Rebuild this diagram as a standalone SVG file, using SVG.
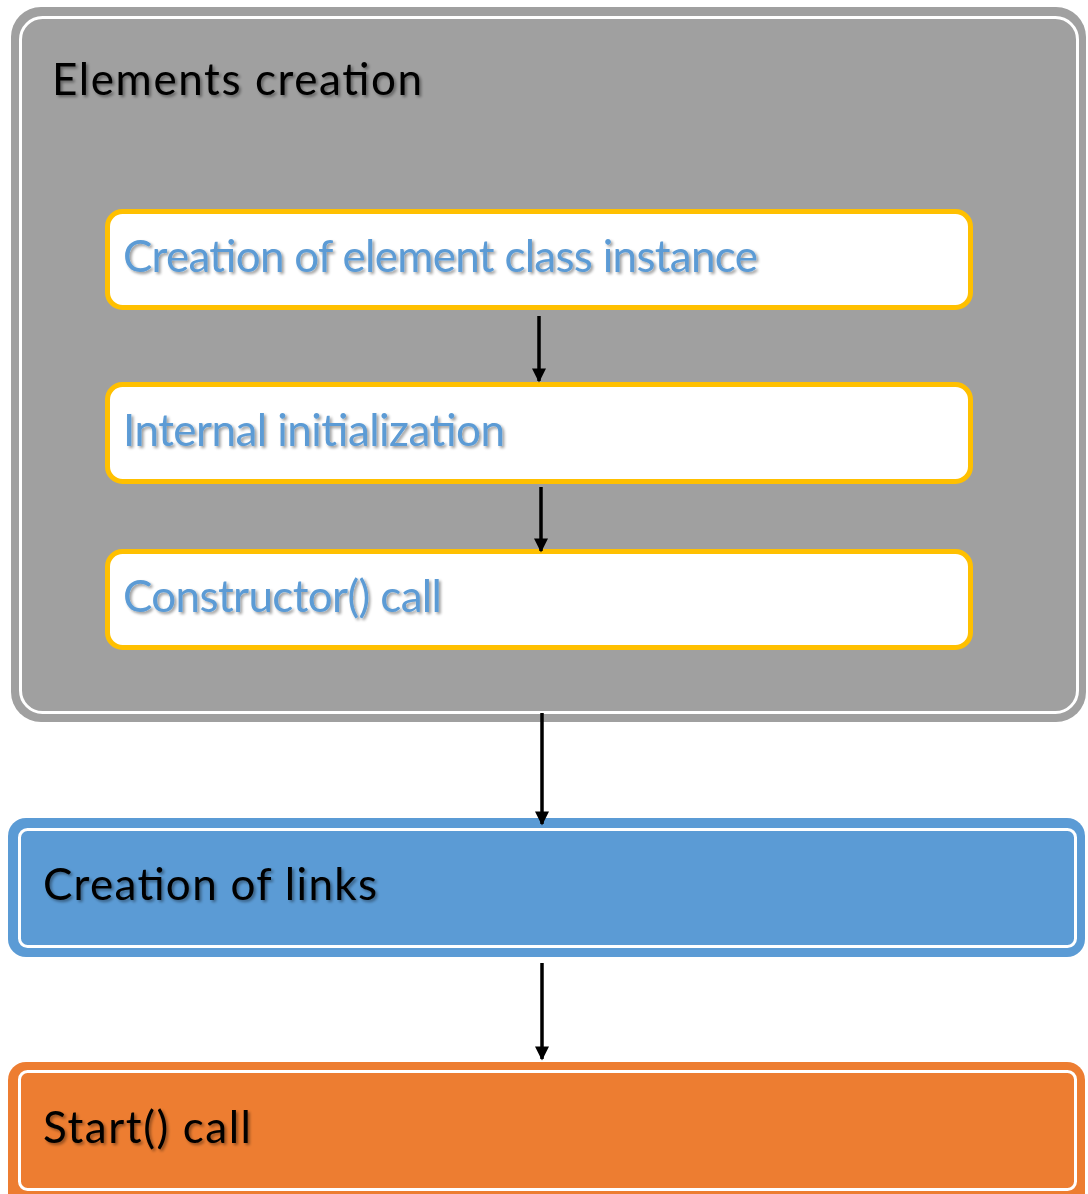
<svg xmlns="http://www.w3.org/2000/svg" width="1088" height="1194" viewBox="0 0 1088 1194">
<defs>
<marker id="ah" viewBox="0 0 10 10" refX="9" refY="5" markerWidth="4.3" markerHeight="4" orient="auto" markerUnits="strokeWidth">
<path d="M0,0 L10,5 L0,10 z" fill="#000"/>
</marker>
<filter id="sh" x="-5%" y="-20%" width="110%" height="150%">
<feGaussianBlur in="SourceAlpha" stdDeviation="1.5"/>
<feOffset dx="1.5" dy="2" result="b"/>
<feComponentTransfer><feFuncA type="linear" slope="0.4"/></feComponentTransfer>
<feMerge><feMergeNode/><feMergeNode in="SourceGraphic"/></feMerge>
</filter>
</defs>
<style>
text{font-family:Lato,"Open Sans","Liberation Sans",sans-serif;font-size:44px}
.dark{fill:#000}
.blue{fill:#5b9bd5}
.inner{fill:#fff;stroke:#ffc000;stroke-width:5}
.wl{fill:none;stroke:#fff;stroke-width:3}
.conn line{stroke:#000;stroke-width:3.5;marker-end:url(#ah)}
</style>
<rect width="1088" height="1194" fill="#fff"/>
<g id="elements-creation">
<rect x="11" y="7" width="1075" height="715" rx="30" fill="#a0a0a0"/>
<rect x="20.5" y="17.5" width="1057" height="695" rx="22" class="wl"/>
<text x="52" y="95" class="dark" textLength="370" filter="url(#sh)">Elements creation</text>
</g>
<g id="node-instance">
<rect x="107.5" y="211.5" width="863" height="96" rx="15" class="inner"/>
<text x="123" y="272" class="blue" textLength="635" filter="url(#sh)">Creation of element class instance</text>
</g>
<g id="node-internal">
<rect x="107.5" y="384.5" width="863" height="97" rx="15" class="inner"/>
<text x="123" y="446" class="blue" textLength="382" filter="url(#sh)">Internal initialization</text>
</g>
<g id="node-constructor">
<rect x="107.5" y="551.5" width="863" height="96" rx="15" class="inner"/>
<text x="123" y="612" class="blue" textLength="319" filter="url(#sh)">Constructor() call</text>
</g>
<g id="node-links">
<rect x="8" y="818" width="1077" height="139" rx="18" fill="#5b9bd5"/>
<rect x="19.5" y="829.5" width="1056" height="117" rx="8" class="wl"/>
<text x="43" y="900" class="dark" textLength="334" filter="url(#sh)">Creation of links</text>
</g>
<g id="node-start">
<rect x="8" y="1062" width="1077" height="150" rx="18" fill="#ed7d31"/>
<rect x="19.5" y="1071.5" width="1056" height="118" rx="8" class="wl"/>
<text x="43" y="1143" class="dark" textLength="208" filter="url(#sh)">Start() call</text>
</g>
<g id="connectors" class="conn">
<line x1="539" y1="316" x2="539" y2="381"/>
<line x1="541" y1="487" x2="541" y2="551"/>
<line x1="542" y1="713" x2="542" y2="824"/>
<line x1="542" y1="963" x2="542" y2="1059"/>
</g>
</svg>
